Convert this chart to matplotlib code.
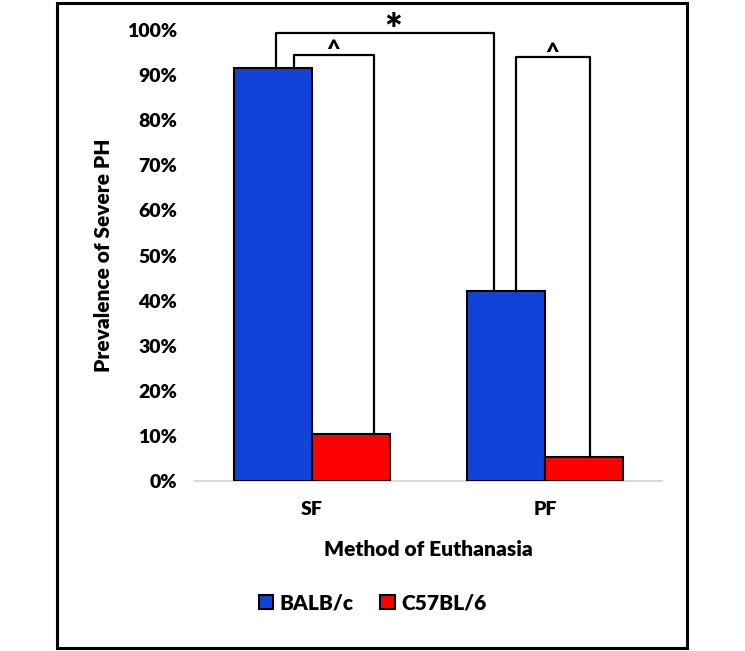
import numpy as np
import matplotlib
matplotlib.use('Agg')
import matplotlib.pyplot as plt
from matplotlib.patches import Rectangle

plt.rcParams['font.family'] = ['Lato', 'DejaVu Sans']
plt.rcParams['font.weight'] = 'heavy'
wt = 'heavy'

# data
categories = ['SF', 'PF']
series_names = ['BALB/c', 'C57BL/6']
balb = [0.915, 0.421]
c57 = [0.104, 0.053]
colors = ['#1342D8', '#FF0000']

fig = plt.figure(figsize=(7.45, 6.51), dpi=100)
ax = fig.add_axes([0.2617, 0.261, 0.627, 0.693])

x = np.arange(len(categories))
w = 1 / 3
xb = x - w / 2   # BALB/c bar centres
xc = x + w / 2   # C57BL/6 bar centres
ax.bar(xb, balb, w, color=colors[0], edgecolor='black', linewidth=1.5, label=series_names[0], zorder=3)
ax.bar(xc, c57, w, color=colors[1], edgecolor='black', linewidth=1.5, label=series_names[1], zorder=3)

ax.set_xlim(-0.5, 1.5)
ax.set_ylim(0, 1.0)
ticks = np.arange(0, 1.01, 0.1)
ax.set_yticks(ticks)
ax.set_yticklabels([f'{int(round(v * 100))}%' for v in ticks], fontsize=14, fontweight=wt)
ax.set_xticks(x)
ax.set_xticklabels(categories, fontsize=14, fontweight=wt)
ax.tick_params(axis='y', length=0, pad=13)
ax.tick_params(axis='x', length=0, pad=14)
for s in ['top', 'right', 'left']:
    ax.spines[s].set_visible(False)
ax.spines['bottom'].set_color('#d9d9d9')
ax.spines['bottom'].set_linewidth(1.5)

ax.set_xlabel('Method of Euthanasia', fontsize=15, fontweight=wt, labelpad=16)
ax.set_ylabel('Prevalence of Severe PH', fontsize=15, fontweight=wt, labelpad=10)


def bracket(x1, y1, x2, y2, top, sym, sx, sy, size):
    ax.plot([x1, x1, x2, x2], [y1, top, top, y2], color='black', lw=1.6,
            clip_on=False, zorder=4)
    ax.text(sx, sy, sym, ha='center', va='center', fontsize=size,
            fontweight=wt, clip_on=False)


# significance brackets (offsets relative to the bar centres)
bracket(xb[0] + 0.013, balb[0], xb[1] - 0.055, balb[1], 0.993, '*', 0.35, 0.996, 30)
bracket(xb[0] + 0.09, balb[0], xc[0] + 0.098, c57[0], 0.945, '^', 0.09, 0.955, 17)
bracket(xb[1] + 0.043, balb[1], xc[1] + 0.025, c57[1], 0.94, '^', 1.03, 0.95, 17)

leg = fig.legend(loc='center', bbox_to_anchor=(0.5, 0.074), ncol=2, frameon=False,
                 handlelength=0.7, handleheight=0.7, handletextpad=0.3,
                 columnspacing=1.3, prop={'weight': wt, 'size': 15})

fig.patches.append(Rectangle((0.0765, 0.0046), 0.8455, 0.9908, transform=fig.transFigure,
                             fill=False, edgecolor='black', linewidth=2.2))

fig.savefig('out.png', dpi=100)
